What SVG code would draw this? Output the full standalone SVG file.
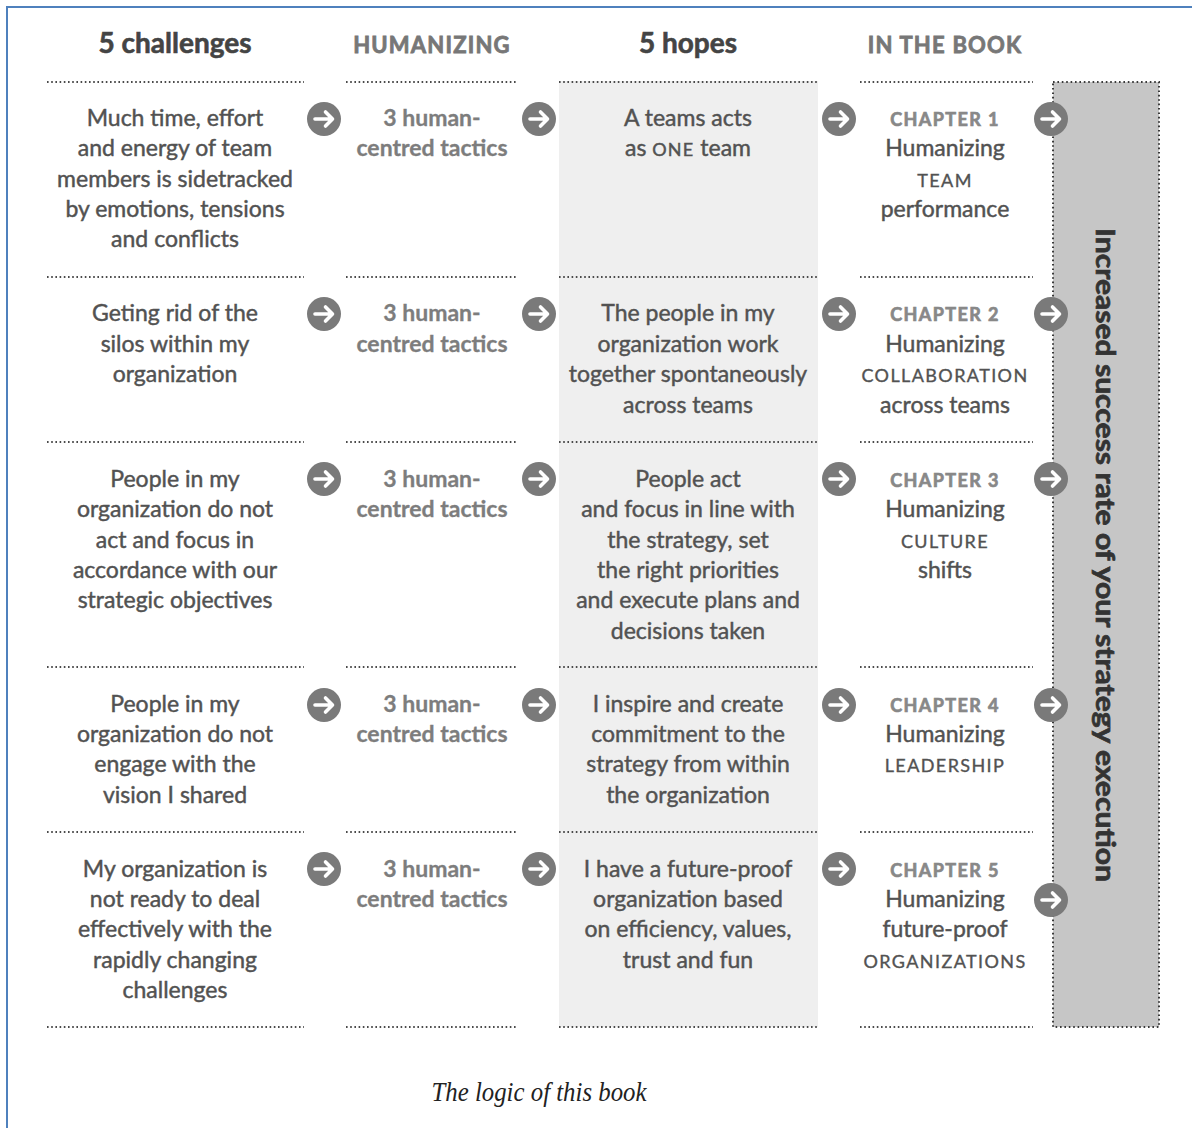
<svg xmlns="http://www.w3.org/2000/svg" width="1192" height="1128" viewBox="0 0 1192 1128">
  <defs>
    <style>
      .frame { stroke: #4f81bd; stroke-width: 2; fill: none; }
      .rule { stroke: #4a4a4a; stroke-width: 2; stroke-dasharray: 1.6 2.6; fill: none; }
      .band { fill: #efefef; }
      .bar { fill: #c6c6c6; stroke: #3a3a3a; stroke-width: 2; stroke-dasharray: 1.6 2.8; }
      .hd { font-family: Lato, "Open Sans", sans-serif; font-weight: 700; text-anchor: middle; }
      .hd-big { font-size: 28px; fill: #444; stroke: #444; stroke-width: 0.6; }
      .hd-caps { font-size: 22px; fill: #777; stroke: #777; stroke-width: 0.8; letter-spacing: 1.2px; }
      .body { font-family: Lato, "Open Sans", sans-serif; font-size: 23px; fill: #525252; stroke: #525252; stroke-width: 0.45; text-anchor: middle; }
      .tac { font-family: Lato, "Open Sans", sans-serif; font-size: 23px; font-weight: 700; fill: #7d7d7d; stroke: #7d7d7d; stroke-width: 0.3; text-anchor: middle; }
      .chap { font-family: Lato, "Open Sans", sans-serif; font-size: 18px; font-weight: 700; fill: #888; stroke: #888; stroke-width: 0.7; letter-spacing: 1.4px; text-anchor: middle; }
      .sc { font-family: Lato, "Open Sans", sans-serif; font-size: 18px; fill: #525252; stroke: #525252; stroke-width: 0.35; letter-spacing: 1.4px; text-anchor: middle; }
      .scin { font-size: 18px; letter-spacing: 1.2px; }
      .goal { font-family: Lato, "Open Sans", sans-serif; font-size: 27px; font-weight: 700; fill: #333; stroke: #333; stroke-width: 0.7; text-anchor: middle; }
      .cap { font-family: "Liberation Serif", serif; font-style: italic; font-size: 27px; fill: #222; text-anchor: middle; }
    </style>
    <g id="go">
      <circle r="17" fill="#7a7a7a"/>
      <path d="M-9,0 H8 M1.5,-7 L8.5,0 L1.5,7" stroke="#fff" stroke-width="3.6" fill="none" stroke-linecap="round" stroke-linejoin="round"/>
    </g>
  </defs>

  <!-- page frame -->
  <path class="frame" d="M7,1128 V7 H1192"/>

  <!-- shaded hopes column and result bar -->
  <rect class="band" x="559" y="81" width="259" height="946"/>
  <rect class="bar" x="1053" y="82" width="106" height="945"/>

  <!-- column headers -->
  <g id="headers">
    <text class="hd hd-big" x="175" y="53">5 challenges</text>
    <text class="hd hd-caps" x="432" y="53">HUMANIZING</text>
    <text class="hd hd-big" x="688" y="53">5 hopes</text>
    <text class="hd hd-caps" x="945" y="53">IN THE BOOK</text>
  </g>

  <!-- dotted row separators -->
  <g id="rules">
    <path class="rule" d="M47,82 H304 M346,82 H518 M559,82 H818 M860,82 H1033"/>
    <path class="rule" d="M47,277 H304 M346,277 H518 M559,277 H818 M860,277 H1033"/>
    <path class="rule" d="M47,442 H304 M346,442 H518 M559,442 H818 M860,442 H1033"/>
    <path class="rule" d="M47,667 H304 M346,667 H518 M559,667 H818 M860,667 H1033"/>
    <path class="rule" d="M47,832 H304 M346,832 H518 M559,832 H818 M860,832 H1033"/>
    <path class="rule" d="M47,1027 H304 M346,1027 H518 M559,1027 H818 M860,1027 H1033"/>
  </g>

  <!-- connectors: arrow buttons between columns -->
  <g id="connectors">
    <use href="#go" x="324" y="119"/><use href="#go" x="539" y="119"/><use href="#go" x="839" y="119"/><use href="#go" x="1051" y="119"/>
    <use href="#go" x="324" y="314"/><use href="#go" x="539" y="314"/><use href="#go" x="839" y="314"/><use href="#go" x="1051" y="314"/>
    <use href="#go" x="324" y="479"/><use href="#go" x="539" y="479"/><use href="#go" x="839" y="479"/><use href="#go" x="1051" y="479"/>
    <use href="#go" x="324" y="705"/><use href="#go" x="539" y="705"/><use href="#go" x="839" y="705"/><use href="#go" x="1051" y="705"/>
    <use href="#go" x="324" y="869"/><use href="#go" x="539" y="869"/><use href="#go" x="839" y="869"/><use href="#go" x="1051" y="900"/>
  </g>

  <!-- row 1 -->
  <g id="challenge-1">
    <text class="body" x="175" y="126">Much time, effort</text>
    <text class="body" x="175" y="156">and energy of team</text>
    <text class="body" x="175" y="187">members is sidetracked</text>
    <text class="body" x="175" y="217">by emotions, tensions</text>
    <text class="body" x="175" y="247">and conflicts</text>
  </g>
  <g id="tactics-1">
    <text class="tac" x="432" y="126">3 human-</text>
    <text class="tac" x="432" y="156">centred tactics</text>
  </g>
  <g id="hope-1">
    <text class="body" x="688" y="126">A teams acts</text>
    <text class="body" x="688" y="156">as <tspan class="scin">ONE</tspan> team</text>
  </g>
  <g id="chapter-1">
    <text class="chap" x="945" y="126">CHAPTER 1</text>
    <text class="body" x="945" y="156">Humanizing</text>
    <text class="sc" x="945" y="187">TEAM</text>
    <text class="body" x="945" y="217">performance</text>
  </g>

  <!-- row 2 -->
  <g id="challenge-2">
    <text class="body" x="175" y="321">Geting rid of the</text>
    <text class="body" x="175" y="352">silos within my</text>
    <text class="body" x="175" y="382">organization</text>
  </g>
  <g id="tactics-2">
    <text class="tac" x="432" y="321">3 human-</text>
    <text class="tac" x="432" y="352">centred tactics</text>
  </g>
  <g id="hope-2">
    <text class="body" x="688" y="321">The people in my</text>
    <text class="body" x="688" y="352">organization work</text>
    <text class="body" x="688" y="382">together spontaneously</text>
    <text class="body" x="688" y="413">across teams</text>
  </g>
  <g id="chapter-2">
    <text class="chap" x="945" y="321">CHAPTER 2</text>
    <text class="body" x="945" y="352">Humanizing</text>
    <text class="sc" x="945" y="382">COLLABORATION</text>
    <text class="body" x="945" y="413">across teams</text>
  </g>

  <!-- row 3 -->
  <g id="challenge-3">
    <text class="body" x="175" y="487">People in my</text>
    <text class="body" x="175" y="517">organization do not</text>
    <text class="body" x="175" y="548">act and focus in</text>
    <text class="body" x="175" y="578">accordance with our</text>
    <text class="body" x="175" y="608">strategic objectives</text>
  </g>
  <g id="tactics-3">
    <text class="tac" x="432" y="487">3 human-</text>
    <text class="tac" x="432" y="517">centred tactics</text>
  </g>
  <g id="hope-3">
    <text class="body" x="688" y="487">People act</text>
    <text class="body" x="688" y="517">and focus in line with</text>
    <text class="body" x="688" y="548">the strategy, set</text>
    <text class="body" x="688" y="578">the right priorities</text>
    <text class="body" x="688" y="608">and execute plans and</text>
    <text class="body" x="688" y="639">decisions taken</text>
  </g>
  <g id="chapter-3">
    <text class="chap" x="945" y="487">CHAPTER 3</text>
    <text class="body" x="945" y="517">Humanizing</text>
    <text class="sc" x="945" y="548">CULTURE</text>
    <text class="body" x="945" y="578">shifts</text>
  </g>

  <!-- row 4 -->
  <g id="challenge-4">
    <text class="body" x="175" y="712">People in my</text>
    <text class="body" x="175" y="742">organization do not</text>
    <text class="body" x="175" y="772">engage with the</text>
    <text class="body" x="175" y="803">vision I shared</text>
  </g>
  <g id="tactics-4">
    <text class="tac" x="432" y="712">3 human-</text>
    <text class="tac" x="432" y="742">centred tactics</text>
  </g>
  <g id="hope-4">
    <text class="body" x="688" y="712">I inspire and create</text>
    <text class="body" x="688" y="742">commitment to the</text>
    <text class="body" x="688" y="772">strategy from within</text>
    <text class="body" x="688" y="803">the organization</text>
  </g>
  <g id="chapter-4">
    <text class="chap" x="945" y="712">CHAPTER 4</text>
    <text class="body" x="945" y="742">Humanizing</text>
    <text class="sc" x="945" y="772">LEADERSHIP</text>
  </g>

  <!-- row 5 -->
  <g id="challenge-5">
    <text class="body" x="175" y="877">My organization is</text>
    <text class="body" x="175" y="907">not ready to deal</text>
    <text class="body" x="175" y="937">effectively with the</text>
    <text class="body" x="175" y="968">rapidly changing</text>
    <text class="body" x="175" y="998">challenges</text>
  </g>
  <g id="tactics-5">
    <text class="tac" x="432" y="877">3 human-</text>
    <text class="tac" x="432" y="907">centred tactics</text>
  </g>
  <g id="hope-5">
    <text class="body" x="688" y="877">I have a future-proof</text>
    <text class="body" x="688" y="907">organization based</text>
    <text class="body" x="688" y="937">on efficiency, values,</text>
    <text class="body" x="688" y="968">trust and fun</text>
  </g>
  <g id="chapter-5">
    <text class="chap" x="945" y="877">CHAPTER 5</text>
    <text class="body" x="945" y="907">Humanizing</text>
    <text class="body" x="945" y="937">future-proof</text>
    <text class="sc" x="945" y="968">ORGANIZATIONS</text>
  </g>

  <!-- overall outcome -->
  <g id="outcome">
    <text class="goal" transform="translate(1096,555) rotate(90)" textLength="654" lengthAdjust="spacingAndGlyphs">Increased success rate of your strategy execution</text>
  </g>

  <!-- caption -->
  <text class="cap" x="539" y="1101" textLength="215" lengthAdjust="spacingAndGlyphs">The logic of this book</text>
</svg>
